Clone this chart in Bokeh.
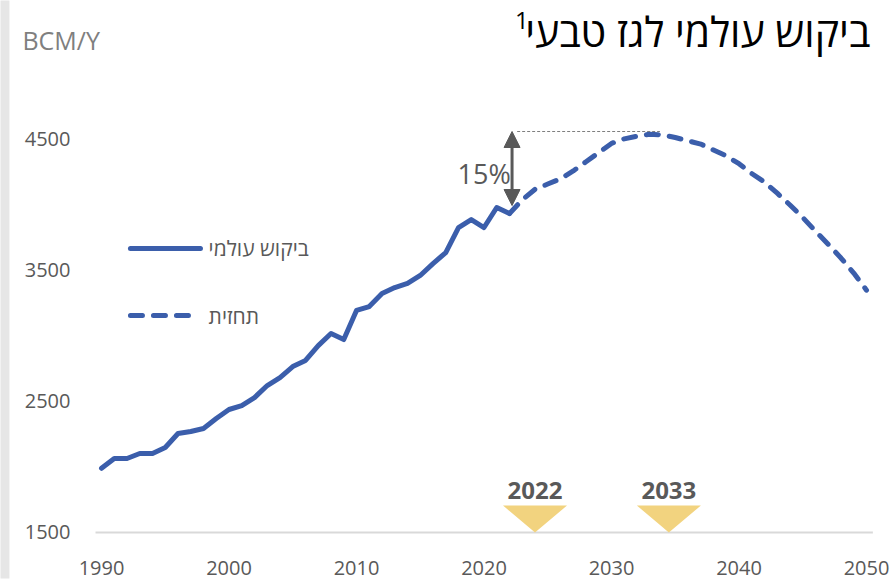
from bokeh.plotting import figure
from bokeh.models import Range1d, Label, Arrow, NormalHead, FixedTicker
from bokeh.embed import file_html
from bokeh.resources import INLINE

# ---- data ----
hist_years = list(range(1990, 2023))
hist_demand = [1990, 2065, 2065, 2103, 2103, 2149, 2256, 2271, 2294, 2370,
               2439, 2469, 2530, 2622, 2683, 2767, 2813, 2927, 3019, 2973,
               3195, 3225, 3324, 3370, 3401, 3462, 3553, 3637, 3828, 3889,
               3828, 3981, 3935]
fc_years = list(range(2022, 2051))
fc_demand = [3935, 4040, 4120, 4160, 4200, 4260, 4330, 4400, 4470, 4505,
             4525, 4540, 4535, 4515, 4490, 4465, 4420, 4375, 4315, 4240,
             4175, 4090, 4000, 3905, 3800, 3700, 3595, 3480, 3350]
x_ticks = [1990, 2000, 2010, 2020, 2030, 2040, 2050]
y_ticks = [1500, 2500, 3500, 4500]
marker_x = [2024.0, 2034.5]
marker_labels = ["2022", "2033"]
legend_labels = ["ביקוש עולמי", "תחזית"]
title_text = "ביקוש עולמי לגז טבעי"
title_note = "1"
unit_text = "BCM/Y"
gap_text = "15%"

BLUE = "#3B5EAB"
GRAY = "#595959"
FONT = "Open Sans"

X0, X1 = 1982.078, 2051.961
Y0, Y1 = 1148.85, 5561.07

p = figure(width=891, height=580, output_backend="svg", toolbar_location=None,
           x_range=Range1d(X0, X1), y_range=Range1d(Y0, Y1),
           min_border_left=0, min_border_right=0, min_border_top=0,
           min_border_bottom=2)
p.outline_line_color = None
p.grid.visible = False

for ax, ticks in ((p.xaxis[0], x_ticks), (p.yaxis[0], y_ticks)):
    ax.ticker = FixedTicker(ticks=ticks)
    ax.axis_line_color = None
    ax.major_tick_line_color = None
    ax.minor_tick_line_color = None
    ax.major_tick_out = 0
    ax.major_tick_in = 0
    ax.major_label_text_font = FONT
    ax.major_label_text_font_size = "20px"
    ax.major_label_text_color = GRAY
p.xaxis.major_label_standoff = -18
p.xaxis.major_label_text_line_height = 0.8
p.yaxis.major_label_standoff = -70

# left decorative strip
p.quad(left=[X0 - 1], right=[1982.78], bottom=[Y0 - 500], top=[Y1 + 500],
       fill_color="#e6e6e6", line_color=None)

# baseline
p.line([1989.53, 2050.5], [y_ticks[0], y_ticks[0]], line_color="#d9d9d9", line_width=2)

# triangle markers
tri_xs = [[m - 2.51, m + 2.51, m] for m in marker_x]
tri_ys = [[1706, 1706, 1500] for _ in marker_x]
p.patches(tri_xs, tri_ys, fill_color="#F2D37F", line_color=None)
for m, t in zip(marker_x, marker_labels):
    p.add_layout(Label(x=m, y=1821, text=t, text_align="center", text_baseline="middle",
                       text_font=FONT, text_font_size="24px", text_font_style="bold",
                       text_color=GRAY))

# series
p.line(hist_years, hist_demand, line_color=BLUE, line_width=5, line_join="round", line_cap="round")
p.line(fc_years, fc_demand, line_color=BLUE, line_width=5, line_dash="12 11",
       line_join="round", line_cap="round")

# legend (manual)
p.line([1992.27, 1997.76], [3668, 3668], line_color=BLUE, line_width=5, line_cap="round")
p.line([1992.27, 1997.4], [3156, 3156], line_color=BLUE, line_width=5, line_cap="round",
       line_dash="12 11")
p.add_layout(Label(x=1998.4, y=3668, text=legend_labels[0], text_align="left",
                   text_baseline="middle", text_font=FONT, text_font_size="21px", text_color=GRAY))
p.add_layout(Label(x=1998.4, y=3156, text=legend_labels[1], text_align="left",
                   text_baseline="middle", text_font=FONT, text_font_size="21px", text_color=GRAY))

# 15% annotation
p.line([2022.6, 2033.8], [4561, 4561], line_color="#7f7f7f", line_width=1, line_dash="3 2")
p.add_layout(Arrow(x_start=2022.2, y_start=3996, x_end=2022.2, y_end=4561,
                   line_color=GRAY, line_width=3,
                   start=NormalHead(size=16, fill_color=GRAY, line_color=GRAY, line_width=1),
                   end=NormalHead(size=16, fill_color=GRAY, line_color=GRAY, line_width=1)))
p.add_layout(Label(x=2022.1, y=4240, text=gap_text, text_align="right", text_baseline="middle",
                   text_font=FONT, text_font_size="27px", text_color=GRAY))

# title and unit
p.add_layout(Label(x=2050.3, y=5332, text=title_text, text_align="right", text_baseline="middle",
                   text_font=FONT, text_font_size="41px", text_color="black"))
p.add_layout(Label(x=2023.5, y=5410, text=title_note, text_align="right", text_baseline="middle",
                   text_font=FONT, text_font_size="24px", text_color="black"))
p.add_layout(Label(x=1983.8, y=5256, text=unit_text, text_align="left", text_baseline="middle",
                   text_font=FONT, text_font_size="25px", text_color="#7f7f7f"))

open("out.html", "w").write(file_html(p, INLINE))
